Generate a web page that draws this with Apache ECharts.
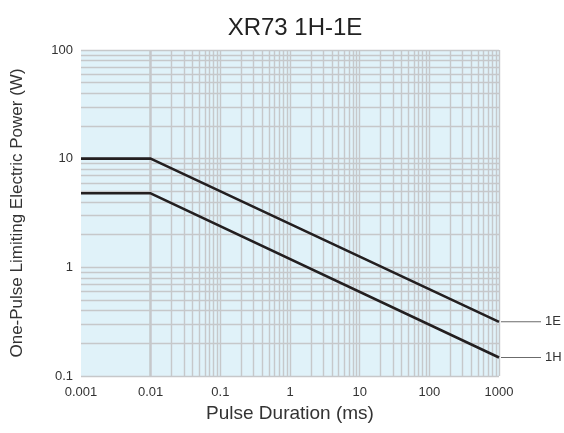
<!DOCTYPE html>
<html>
<head>
<meta charset="utf-8">
<script src="https://cdn.jsdelivr.net/npm/echarts@6/dist/echarts.min.js"></script>
<style>
  html, body { margin: 0; padding: 0; background: #fff; }
  #chart { width: 564px; height: 433px; }
</style>
</head>
<body>
<div id="chart"></div>
<script>
// 数据
const durations1E = [0.001, 0.01, 1000];
const power1E = [10, 10, 0.315];
const durations1H = [0.001, 0.01, 1000];
const power1H = [4.8, 4.8, 0.148];
const xTicks = [0.001, 0.01, 0.1, 1, 10, 100, 1000];
const yTicks = [0.1, 1, 10, 100];

const FONT = '"Liberation Sans", Arial, sans-serif';

// 网格线 (1..9 × 每个十进位)
const gridValues = (ticks) => {
  const out = [];
  for (let i = 0; i < ticks.length - 1; i++) {
    for (let k = 1; k < 10; k++) out.push(Number((ticks[i] * k).toPrecision(3)));
  }
  out.push(ticks[ticks.length - 1]);
  return out;
};
const gridX = gridValues(xTicks);
const gridY = gridValues(yTicks);

const fmt = (v) => String(Number(v.toPrecision(3)));

const chart = echarts.init(document.getElementById('chart'));

const endLabel = (name) => ({
  show: true,
  distance: 2,
  formatter: '{l|}{t|' + name + '}',
  rich: {
    l: { width: 40, height: 1, backgroundColor: '#6b6b6b', verticalAlign: 'middle' },
    t: { fontSize: 13, color: '#333', fontFamily: FONT, padding: [0, 0, 0, 4], verticalAlign: 'middle' }
  }
});

chart.setOption({
  animation: false,
  title: {
    text: 'XR73 1H-1E',
    left: 290,
    textAlign: 'center',
    top: 11,
    textStyle: { fontSize: 24, fontWeight: 'normal', color: '#222', fontFamily: FONT }
  },
  grid: {
    left: 81, right: 65, top: 50, bottom: 57,
    show: true, backgroundColor: '#e0f2f9', borderWidth: 0
  },
  xAxis: {
    type: 'log', logBase: 10, min: 0.001, max: 1000,
    name: 'Pulse Duration (ms)',
    nameLocation: 'middle', nameGap: 26,
    nameTextStyle: { fontSize: 19, color: '#333', fontFamily: FONT },
    axisLine: { show: false }, axisTick: { show: false }, splitLine: { show: false },
    axisLabel: { margin: 10, fontSize: 13, color: '#333', fontFamily: FONT, formatter: fmt }
  },
  yAxis: {
    type: 'log', logBase: 10, min: 0.1, max: 100,
    name: 'One-Pulse Limiting Electric Power (W)',
    nameLocation: 'middle', nameGap: 55,
    nameTextStyle: { fontSize: 17, color: '#333', fontFamily: FONT },
    axisLine: { show: false }, axisTick: { show: false }, splitLine: { show: false },
    axisLabel: { margin: 8, fontSize: 13, color: '#333', fontFamily: FONT, formatter: fmt }
  },
  series: [
    {
      type: 'line',
      data: [],
      silent: true,
      z: 1,
      markLine: {
        silent: true, symbol: 'none', animation: false,
        label: { show: false },
        lineStyle: { color: '#c6c8ca', width: 1.4, type: 'solid' },
        data: gridX.map(v => ({ xAxis: v })).concat(gridY.map(v => ({ yAxis: v })))
      }
    },
    {
      name: '1E',
      type: 'line',
      z: 5,
      data: durations1E.map((x, i) => [x, power1E[i]]),
      showSymbol: false,
      lineStyle: { color: '#231f20', width: 2.6 },
      endLabel: endLabel('1E')
    },
    {
      name: '1H',
      type: 'line',
      z: 5,
      data: durations1H.map((x, i) => [x, power1H[i]]),
      showSymbol: false,
      lineStyle: { color: '#231f20', width: 2.6 },
      endLabel: endLabel('1H')
    }
  ]
});
</script>
</body>
</html>
